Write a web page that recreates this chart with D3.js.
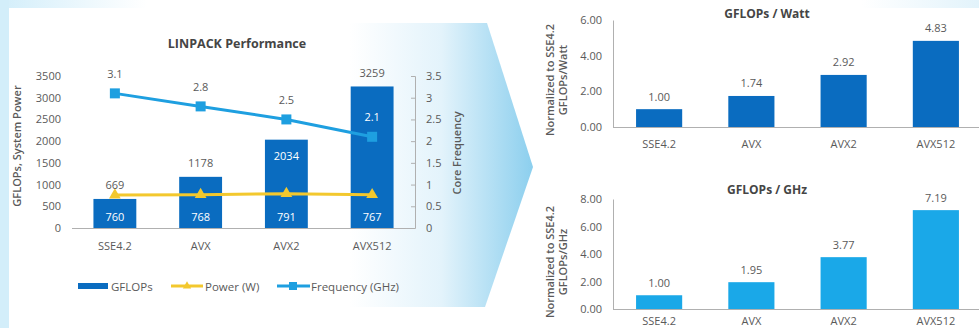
<!DOCTYPE html>
<html><head><meta charset="utf-8">
<script src="https://cdn.jsdelivr.net/npm/d3@7"></script>
<style>
html,body{margin:0;padding:0;background:#fff;}
svg{display:block;font-family:"Open Sans","Noto Sans",sans-serif;}
</style></head>
<body><svg id="c" width="979" height="328"></svg>
<script>
const categories = ["SSE4.2","AVX","AVX2","AVX512"];
const gflops = [669,1178,2034,3259];
const power = [760,768,791,767];
const frequency = [3.1,2.8,2.5,2.1];
const leftTicks = [0,500,1000,1500,2000,2500,3000,3500];
const rightTicks = [0,0.5,1,1.5,2,2.5,3,3.5];
const perWatt = [1.00,1.74,2.92,4.83];
const perWattTicks = [0,2,4,6];
const perGHz = [1.00,1.95,3.77,7.19];
const perGHzTicks = [0,2,4,6,8];
const legendItems = ["GFLOPs","Power (W)","Frequency (GHz)"];

const C = {dark:"#0a6cc0", light:"#1aa8e8", freq:"#1e9fe0", pow:"#f3c82e", text:"#5a5a5a", title:"#454545", axis:"#b0b0b0"};
const svg = d3.select("#c");
const defs = svg.append("defs");

// background
const gTop = defs.append("linearGradient").attr("id","gtop").attr("x1",0).attr("x2",1).attr("y1",0).attr("y2",0);
gTop.append("stop").attr("offset","0").attr("stop-color","#d3eefa");
gTop.append("stop").attr("offset","0.15").attr("stop-color","#ffffff");
gTop.append("stop").attr("offset","0.88").attr("stop-color","#ffffff");
gTop.append("stop").attr("offset","1").attr("stop-color","#e2f3fb");
svg.append("rect").attr("x",0).attr("y",0).attr("width",979).attr("height",8).attr("fill","url(#gtop)");
svg.append("rect").attr("x",0).attr("y",0).attr("width",9).attr("height",328).attr("fill","#d3eefa");

const gArrow = defs.append("linearGradient").attr("id","garrow").attr("gradientUnits","userSpaceOnUse")
  .attr("x1",350).attr("x2",533).attr("y1",0).attr("y2",0);
gArrow.append("stop").attr("offset","0").attr("stop-color","#ffffff");
gArrow.append("stop").attr("offset","0.5").attr("stop-color","#e3f3fb");
gArrow.append("stop").attr("offset","1").attr("stop-color","#8ccfee");
svg.append("path").attr("d","M350,23L487,23L533,167L485,307L350,307Z").attr("fill","url(#garrow)");

// ===== LINPACK chart =====
const x = d3.scaleBand().domain(categories).range([72,415]).paddingInner(0.5).paddingOuter(0.25);
const yL = d3.scaleLinear().domain([0,3500]).range([228,76]);
const yR = d3.scaleLinear().domain([0,3.5]).range([228,76]);

svg.append("text").attr("x",237).attr("y",48).attr("text-anchor","middle").attr("font-size",12.5)
  .attr("font-weight","bold").attr("fill",C.title).text("LINPACK Performance");

const axL = svg.append("g").attr("transform","translate(72,0)")
  .call(d3.axisLeft(yL).tickValues(leftTicks).tickSize(0).tickPadding(11).tickFormat(d3.format("d")));
axL.select(".domain").remove();
axL.selectAll("text").attr("font-size",11).attr("fill",C.text).attr("font-family","Open Sans");

const axR = svg.append("g").attr("transform","translate(415,0)")
  .call(d3.axisRight(yR).tickValues(rightTicks).tickSize(-4).tickPadding(11).tickFormat(d3.format("")));
axR.select(".domain").attr("stroke",C.axis);
axR.selectAll("line").attr("stroke",C.axis);
axR.selectAll("text").attr("font-size",11).attr("fill",C.text).attr("font-family","Open Sans");

svg.append("text").attr("transform","translate(21,146) rotate(-90)").attr("text-anchor","middle")
  .attr("font-size",11).attr("font-weight",600).attr("fill",C.text).text("GFLOPs, System Power");
svg.append("text").attr("transform","translate(461,153) rotate(-90)").attr("text-anchor","middle")
  .attr("font-size",11).attr("font-weight",600).attr("fill",C.text).text("Core Frequency");

svg.append("g").selectAll("rect").data(categories).join("rect")
  .attr("x",d=>x(d)).attr("width",x.bandwidth())
  .attr("y",(d,i)=>yL(gflops[i])).attr("height",(d,i)=>yL(0)-yL(gflops[i])).attr("fill",C.dark);

svg.append("line").attr("x1",72).attr("x2",415).attr("y1",228.5).attr("y2",228.5).attr("stroke",C.axis);

const axB = svg.append("g").attr("transform","translate(0,228)")
  .call(d3.axisBottom(x).tickSize(0).tickPadding(14));
axB.select(".domain").remove();
axB.selectAll("text").attr("font-size",11).attr("fill",C.text).attr("font-family","Open Sans");

const cx = d=>x(d)+x.bandwidth()/2;
// power line
svg.append("path").attr("fill","none").attr("stroke",C.pow).attr("stroke-width",3)
  .attr("d",d3.line().x(cx).y((d,i)=>yL(power[i]))(categories));
svg.append("g").selectAll("path").data(categories).join("path")
  .attr("transform",(d,i)=>`translate(${cx(d)},${yL(power[i])})`)
  .attr("d",d3.symbol(d3.symbolTriangle,60)).attr("fill",C.pow);
// freq line
svg.append("path").attr("fill","none").attr("stroke",C.freq).attr("stroke-width",3)
  .attr("d",d3.line().x(cx).y((d,i)=>yR(frequency[i]))(categories));
svg.append("g").selectAll("rect").data(categories).join("rect")
  .attr("x",d=>cx(d)-5).attr("y",(d,i)=>yR(frequency[i])-5).attr("width",10).attr("height",10).attr("fill",C.freq);

// labels
const lab = (xx,yy,t,col)=>svg.append("text").attr("x",xx).attr("y",yy).attr("text-anchor","middle")
  .attr("dominant-baseline","central").attr("font-size",11).attr("fill",col).text(t);
categories.forEach((c,i)=>{
  lab(cx(c),yR(frequency[i])-20,frequency[i],i===3?"#fff":C.text);
  lab(cx(c),yL(0)-12,power[i],"#fff");
  if(i===2) lab(cx(c),yL(gflops[i])+16,gflops[i],"#fff");
  else lab(cx(c),yL(gflops[i])-14,gflops[i],C.text);
});

// legend
const leg = svg.append("g").attr("font-size",11.5).attr("fill",C.text);
leg.append("rect").attr("x",78).attr("y",283).attr("width",30).attr("height",6).attr("fill",C.dark);
leg.append("text").attr("x",111).attr("y",286).attr("dominant-baseline","central").text(legendItems[0]);
leg.append("line").attr("x1",171).attr("x2",203).attr("y1",286).attr("y2",286).attr("stroke",C.pow).attr("stroke-width",3);
leg.append("path").attr("transform","translate(187,286)").attr("d",d3.symbol(d3.symbolTriangle,30)).attr("fill",C.pow);
leg.append("text").attr("x",205).attr("y",286).attr("dominant-baseline","central").text(legendItems[1]);
leg.append("line").attr("x1",277).attr("x2",310).attr("y1",286).attr("y2",286).attr("stroke",C.freq).attr("stroke-width",3);
leg.append("rect").attr("x",289).attr("y",282).attr("width",8).attr("height",8).attr("fill",C.freq);
leg.append("text").attr("x",311).attr("y",286).attr("dominant-baseline","central").text(legendItems[2]);

// ===== right charts =====
function smallChart(vals, ticks, top, base, color, title, titleY, ytitle2, yTitleC, labY){
  const xs = d3.scaleBand().domain(categories).range([613,982]).paddingInner(0.5).paddingOuter(0.25);
  const ys = d3.scaleLinear().domain([0,d3.max(ticks)]).range([base,top]);
  svg.append("text").attr("x",767).attr("y",titleY).attr("text-anchor","middle").attr("dominant-baseline","central")
    .attr("font-size",12).attr("font-weight","bold").attr("fill",C.title).text(title);
  const a = svg.append("g").attr("transform","translate(613,0)")
    .call(d3.axisLeft(ys).tickValues(ticks).tickSize(0).tickPadding(11).tickFormat(d3.format(".2f")));
  a.select(".domain").attr("stroke",C.axis);
  a.selectAll("text").attr("font-size",11).attr("fill",C.text).attr("font-family","Open Sans");
  svg.append("g").selectAll("rect").data(categories).join("rect")
    .attr("x",d=>xs(d)).attr("width",xs.bandwidth())
    .attr("y",(d,i)=>ys(vals[i])).attr("height",(d,i)=>ys(0)-ys(vals[i])).attr("fill",color);
  svg.append("line").attr("x1",613).attr("x2",979).attr("y1",base+0.5).attr("y2",base+0.5).attr("stroke",C.axis);
  categories.forEach((c,i)=>{
    svg.append("text").attr("x",xs(c)+xs.bandwidth()/2).attr("y",ys(vals[i])-13).attr("text-anchor","middle")
      .attr("dominant-baseline","central").attr("font-size",11).attr("fill",C.text).text(d3.format(".2f")(vals[i]));
    svg.append("text").attr("x",xs(c)+xs.bandwidth()/2).attr("y",labY).attr("text-anchor","middle")
      .attr("dominant-baseline","central").attr("font-size",11).attr("fill",C.text).text(c);
  });
  const t = svg.append("text").attr("transform",`translate(555,${yTitleC}) rotate(-90)`).attr("text-anchor","middle")
    .attr("font-size",11).attr("font-weight",600).attr("fill",C.text);
  t.append("tspan").attr("x",0).attr("dy","-0.1em").text("Normalized to SSE4.2");
  t.append("tspan").attr("x",0).attr("dy","1.15em").text(ytitle2);
}
smallChart(perWatt, perWattTicks, 20, 127, C.dark, "GFLOPs / Watt", 13, "GFLOPs/Watt", 80, 143);
smallChart(perGHz, perGHzTicks, 199, 309, C.light, "GFLOPs / GHz", 189, "GFLOPs/GHz", 262, 320);
</script></body></html>
